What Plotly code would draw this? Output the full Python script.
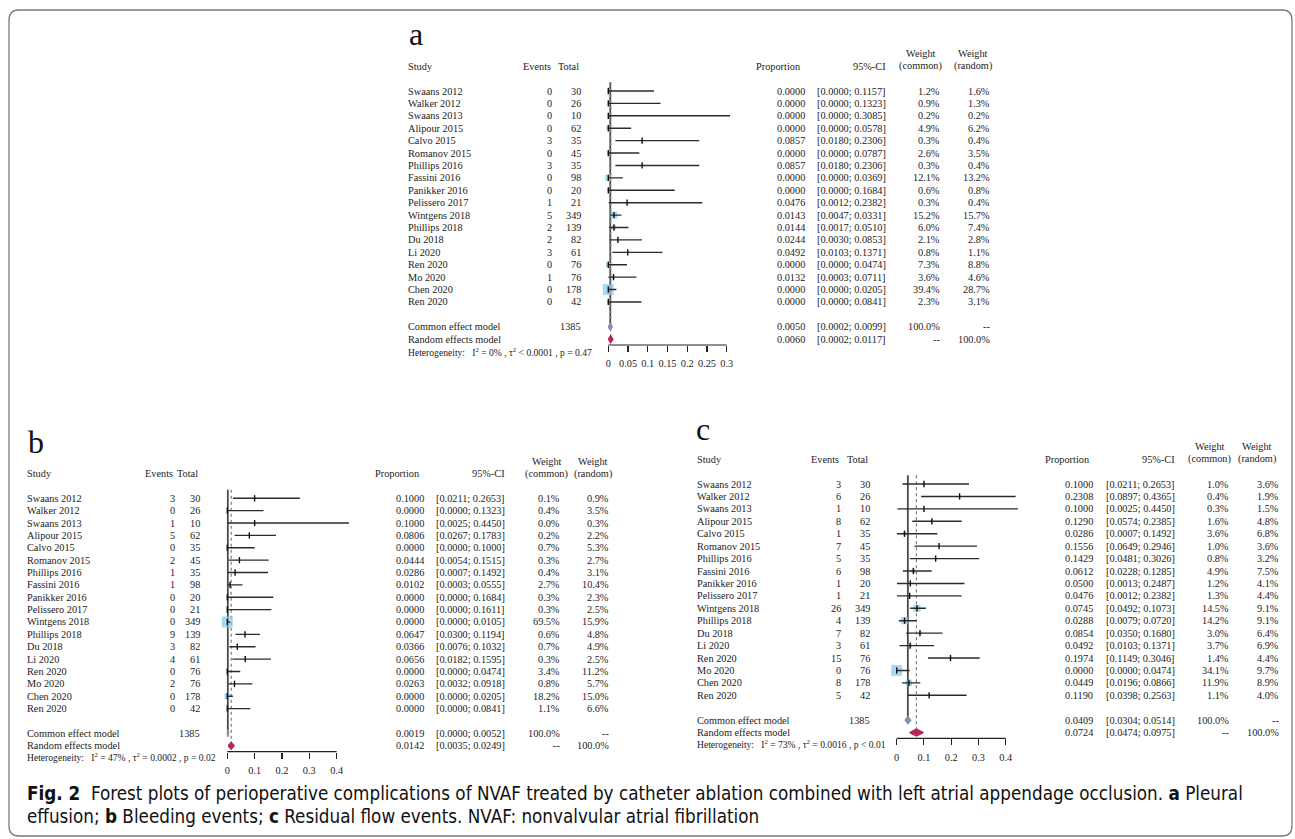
import plotly.graph_objects as go

W, H = 1295, 839

# ---------------- data ----------------
STUDIES = ["Swaans 2012", "Walker 2012", "Swaans 2013", "Alipour 2015", "Calvo 2015",
           "Romanov 2015", "Phillips 2016", "Fassini 2016", "Panikker 2016", "Pelissero 2017",
           "Wintgens 2018", "Phillips 2018", "Du 2018", "Li 2020", "Ren 2020", "Mo 2020",
           "Chen 2020", "Ren 2020"]
TOTALS = [30, 26, 10, 62, 35, 45, 35, 98, 20, 21, 349, 139, 82, 61, 76, 76, 178, 42]
TOTAL_N = 1385

A_EVENTS = [0, 0, 0, 0, 3, 0, 3, 0, 0, 1, 5, 2, 2, 3, 0, 1, 0, 0]
A_PROP = [0.0000, 0.0000, 0.0000, 0.0000, 0.0857, 0.0000, 0.0857, 0.0000, 0.0000, 0.0476,
          0.0143, 0.0144, 0.0244, 0.0492, 0.0000, 0.0132, 0.0000, 0.0000]
A_LOW = [0.0000, 0.0000, 0.0000, 0.0000, 0.0180, 0.0000, 0.0180, 0.0000, 0.0000, 0.0012,
         0.0047, 0.0017, 0.0030, 0.0103, 0.0000, 0.0003, 0.0000, 0.0000]
A_UP = [0.1157, 0.1323, 0.3085, 0.0578, 0.2306, 0.0787, 0.2306, 0.0369, 0.1684, 0.2382,
        0.0331, 0.0510, 0.0853, 0.1371, 0.0474, 0.0711, 0.0205, 0.0841]
A_W_COMMON = [1.2, 0.9, 0.2, 4.9, 0.3, 2.6, 0.3, 12.1, 0.6, 0.3, 15.2, 6.0, 2.1, 0.8, 7.3, 3.6, 39.4, 2.3]
A_W_RANDOM = [1.6, 1.3, 0.2, 6.2, 0.4, 3.5, 0.4, 13.2, 0.8, 0.4, 15.7, 7.4, 2.8, 1.1, 8.8, 4.6, 28.7, 3.1]
A_COMMON = [0.0050, 0.0002, 0.0099]
A_RANDOM = [0.0060, 0.0002, 0.0117]
A_HET = ["0%", "&lt; 0.0001", "= 0.47"]
A_TICKS = [0, 0.05, 0.1, 0.15, 0.2, 0.25, 0.3]
A_TICKTEXT = ["0", "0.05", "0.1", "0.15", "0.2", "0.25", "0.3"]

B_EVENTS = [3, 0, 1, 5, 0, 2, 1, 1, 0, 0, 0, 9, 3, 4, 0, 2, 0, 0]
B_PROP = [0.1000, 0.0000, 0.1000, 0.0806, 0.0000, 0.0444, 0.0286, 0.0102, 0.0000, 0.0000,
          0.0000, 0.0647, 0.0366, 0.0656, 0.0000, 0.0263, 0.0000, 0.0000]
B_LOW = [0.0211, 0.0000, 0.0025, 0.0267, 0.0000, 0.0054, 0.0007, 0.0003, 0.0000, 0.0000,
         0.0000, 0.0300, 0.0076, 0.0182, 0.0000, 0.0032, 0.0000, 0.0000]
B_UP = [0.2653, 0.1323, 0.4450, 0.1783, 0.1000, 0.1515, 0.1492, 0.0555, 0.1684, 0.1611,
        0.0105, 0.1194, 0.1032, 0.1595, 0.0474, 0.0918, 0.0205, 0.0841]
B_W_COMMON = [0.1, 0.4, 0.0, 0.2, 0.7, 0.3, 0.4, 2.7, 0.3, 0.3, 69.5, 0.6, 0.7, 0.3, 3.4, 0.8, 18.2, 1.1]
B_W_RANDOM = [0.9, 3.5, 0.3, 2.2, 5.3, 2.7, 3.1, 10.4, 2.3, 2.5, 15.9, 4.8, 4.9, 2.5, 11.2, 5.7, 15.0, 6.6]
B_COMMON = [0.0019, 0.0000, 0.0052]
B_RANDOM = [0.0142, 0.0035, 0.0249]
B_HET = ["47%", "= 0.0002", "= 0.02"]
B_TICKS = [0, 0.1, 0.2, 0.3, 0.4]
B_TICKTEXT = ["0", "0.1", "0.2", "0.3", "0.4"]

C_EVENTS = [3, 6, 1, 8, 1, 7, 5, 6, 1, 1, 26, 4, 7, 3, 15, 0, 8, 5]
C_PROP = [0.1000, 0.2308, 0.1000, 0.1290, 0.0286, 0.1556, 0.1429, 0.0612, 0.0500, 0.0476,
          0.0745, 0.0288, 0.0854, 0.0492, 0.1974, 0.0000, 0.0449, 0.1190]
C_LOW = [0.0211, 0.0897, 0.0025, 0.0574, 0.0007, 0.0649, 0.0481, 0.0228, 0.0013, 0.0012,
         0.0492, 0.0079, 0.0350, 0.0103, 0.1149, 0.0000, 0.0196, 0.0398]
C_UP = [0.2653, 0.4365, 0.4450, 0.2385, 0.1492, 0.2946, 0.3026, 0.1285, 0.2487, 0.2382,
        0.1073, 0.0720, 0.1680, 0.1371, 0.3046, 0.0474, 0.0866, 0.2563]
C_W_COMMON = [1.0, 0.4, 0.3, 1.6, 3.6, 1.0, 0.8, 4.9, 1.2, 1.3, 14.5, 14.2, 3.0, 3.7, 1.4, 34.1, 11.9, 1.1]
C_W_RANDOM = [3.6, 1.9, 1.5, 4.8, 6.8, 3.6, 3.2, 7.5, 4.1, 4.4, 9.1, 9.1, 6.4, 6.9, 4.4, 9.7, 8.9, 4.0]
C_COMMON = [0.0409, 0.0304, 0.0514]
C_RANDOM = [0.0724, 0.0474, 0.0975]
C_HET = ["73%", "= 0.0016", "&lt; 0.01"]
C_TICKS = [0, 0.1, 0.2, 0.3, 0.4]
C_TICKTEXT = ["0", "0.1", "0.2", "0.3", "0.4"]

CAPTION_1 = ("<b>Fig. 2</b>\u00a0\u00a0Forest plots of perioperative complications of NVAF treated by catheter "
             "ablation combined with left atrial appendage occlusion. <b>a</b> Pleural")
CAPTION_2 = "effusion; <b>b</b> Bleeding events; <b>c</b> Residual flow events. NVAF: nonvalvular atrial fibrillation"

# ---------------- styling / layout geometry ----------------
SERIF = "Liberation Serif, Times New Roman, serif"
TXT = "#1c1c1c"
FS = 10.3
HET_FS = 9.6
SQ_COLOR = "#86C9E8"
COMMON_COLOR = "#8193AE"
RANDOM_COLOR = "#B8245C"

PANELS = [
    dict(label="a", lab_x=407, lab_base=45, x0=608.3, ppu=394.7, xr=(-0.03, 0.335),
         row0=91.0, sp=12.41, axis=345.0, het_row=21.0,
         study=406, ev=554.3, tot=583.3, prop_h=754, prop=806.7, ci=887.7,
         wc=942.3, wr=992.3, wc_c=920.5, wr_c=972.5,
         events=A_EVENTS, p=A_PROP, lo=A_LOW, up=A_UP, wcv=A_W_COMMON, wrv=A_W_RANDOM,
         common=A_COMMON, random=A_RANDOM, het=A_HET, ticks=A_TICKS, ticktext=A_TICKTEXT),
    dict(label="b", lab_x=26, lab_base=453, x0=227.3, ppu=273.3, xr=(-0.03, 0.46),
         row0=498.3, sp=12.37, axis=751.7, het_row=20.9,
         study=25.3, ev=176.7, tot=202.3, prop_h=373.3, prop=426.0, ci=506.7,
         wc=561.7, wr=610.7, wc_c=546.7, wr_c=592.7,
         events=B_EVENTS, p=B_PROP, lo=B_LOW, up=B_UP, wcv=B_W_COMMON, wrv=B_W_RANDOM,
         common=B_COMMON, random=B_RANDOM, het=B_HET, ticks=B_TICKS, ticktext=B_TICKTEXT),
    dict(label="c", lab_x=694, lab_base=440, x0=896.7, ppu=272.5, xr=(-0.03, 0.46),
         row0=484.0, sp=12.43, axis=738.3, het_row=20.9,
         study=695, ev=843.0, tot=872.3, prop_h=1042.7, prop=1095.0, ci=1176.7,
         wc=1231.0, wr=1280.7, wc_c=1209.7, wr_c=1257.0,
         events=C_EVENTS, p=C_PROP, lo=C_LOW, up=C_UP, wcv=C_W_COMMON, wrv=C_W_RANDOM,
         common=C_COMMON, random=C_RANDOM, het=C_HET, ticks=C_TICKS, ticktext=C_TICKTEXT),
]


def px(x):
    return x / W


def py(y):
    return 1 - y / H


fig = go.Figure()
annotations = []
shapes = []
layout_axes = {}

for k, P in enumerate(PANELS, start=1):
    xa = "x" if k == 1 else f"x{k}"
    ya = "y" if k == 1 else f"y{k}"
    n = len(STUDIES)
    rows = list(range(n))
    r_common, r_random = n + 1, n + 2
    top_row = -3.6

    # axes domains from pixel geometry
    xl = P["x0"] + P["xr"][0] * P["ppu"]
    xrgt = P["x0"] + P["xr"][1] * P["ppu"]
    y_top_px = P["row0"] + top_row * P["sp"]
    y_bot_row = (P["axis"] - P["row0"]) / P["sp"]
    layout_axes["xaxis" if k == 1 else f"xaxis{k}"] = dict(
        domain=[px(xl), px(xrgt)], range=list(P["xr"]), anchor=ya,
        showgrid=False, zeroline=False, showline=False,
        tickmode="array", tickvals=P["ticks"], ticktext=P["ticktext"],
        ticks="outside", ticklen=6, tickwidth=1.1, tickcolor="#222",
        tickfont=dict(family=SERIF, size=FS, color=TXT), ticklabelstandoff=3,
        fixedrange=True)
    layout_axes["yaxis" if k == 1 else f"yaxis{k}"] = dict(
        domain=[py(P["axis"]), py(y_top_px)], range=[y_bot_row, top_row], anchor=xa,
        visible=False, fixedrange=True)

    # axis line from first to last tick
    shapes.append(dict(type="line", xref=xa, yref=f"{ya} domain",
                       x0=P["ticks"][0], x1=P["ticks"][-1], y0=0, y1=0,
                       line=dict(color="#222", width=1.2)))

    # vertical lines at pooled estimates
    fig.add_trace(go.Scatter(x=[P["common"][0]] * 2, y=[-0.7, r_common], mode="lines",
                             line=dict(color="#4a4a4a", width=1.8), xaxis=xa, yaxis=ya,
                             hoverinfo="skip", showlegend=False))
    fig.add_trace(go.Scatter(x=[P["random"][0]] * 2, y=[-0.7, r_random], mode="lines",
                             line=dict(color="#7a7a7a", width=1.2, dash="dot"), xaxis=xa, yaxis=ya,
                             hoverinfo="skip", showlegend=False))

    # squares (area ~ common weight)
    wmax = max(P["wcv"])
    sizes = [max(1.5, 11.0 * (w / wmax) ** 0.5) for w in P["wcv"]]
    fig.add_trace(go.Scatter(x=P["p"], y=rows, mode="markers",
                             marker=dict(symbol="square", size=sizes, color=SQ_COLOR, line=dict(width=0)),
                             xaxis=xa, yaxis=ya, cliponaxis=False, hoverinfo="skip", showlegend=False))
    # confidence intervals + point ticks
    fig.add_trace(go.Scatter(x=P["p"], y=rows, mode="markers",
                             marker=dict(symbol="line-ns-open", size=4.5, color="#111",
                                         line=dict(color="#111", width=1.4)),
                             error_x=dict(type="data", symmetric=False,
                                          array=[u - v for u, v in zip(P["up"], P["p"])],
                                          arrayminus=[v - l for v, l in zip(P["p"], P["lo"])],
                                          width=0, thickness=1.4, color="#2b2b2b"),
                             xaxis=xa, yaxis=ya, cliponaxis=False, hoverinfo="skip", showlegend=False))
    # diamonds
    for (est, lo, up), r, col in [(P["common"], r_common, COMMON_COLOR),
                                  (P["random"], r_random, RANDOM_COLOR)]:
        h = 0.28
        fig.add_trace(go.Scatter(x=[lo, est, up, est, lo], y=[r, r - h, r, r + h, r],
                                 mode="lines", fill="toself", fillcolor=col,
                                 line=dict(color=col, width=1.4), xaxis=xa, yaxis=ya,
                                 hoverinfo="skip", showlegend=False))

    def ann(text, x, row, anchor, size=FS, yref=ya):
        annotations.append(dict(text=text, x=px(x), y=row, xref="paper", yref=yref,
                                xanchor=anchor, yanchor="middle", showarrow=False,
                                font=dict(family=SERIF, size=size, color=TXT)))

    # panel label
    annotations.append(dict(text=P["label"], x=px(P["lab_x"]), y=py(P["lab_base"] - 11),
                            xref="paper", yref="paper", xanchor="left", yanchor="middle",
                            showarrow=False, font=dict(family=SERIF, size=32, color="#111")))

    # headers
    ann("Study", P["study"], -2, "left")
    ann("Events", P["ev"] - 1.5, -2, "right")
    ann("Total", P["tot"] - 2.5, -2, "right")
    ann("Proportion", P["prop_h"], -2, "left")
    ann("95%-CI", P["ci"], -2, "right")
    ann("Weight", P["wc_c"], -3, "center")
    ann("(common)", P["wc_c"], -2, "center")
    ann("Weight", P["wr_c"], -3, "center")
    ann("(random)", P["wr_c"], -2, "center")

    # study rows
    for i in rows:
        ann(STUDIES[i], P["study"], i, "left")
        ann(str(P["events"][i]), P["ev"], i, "right")
        ann(str(TOTALS[i]), P["tot"], i, "right")
        ann(f"{P['p'][i]:.4f}", P["prop"], i, "right")
        ann(f"[{P['lo'][i]:.4f}; {P['up'][i]:.4f}]", P["ci"], i, "right")
        ann(f"{P['wcv'][i]:.1f}%", P["wc"], i, "right")
        ann(f"{P['wrv'][i]:.1f}%", P["wr"], i, "right")

    # pooled rows
    ann("Common effect model", P["study"], r_common, "left")
    ann(str(TOTAL_N), P["tot"], r_common, "right")
    ann(f"{P['common'][0]:.4f}", P["prop"], r_common, "right")
    ann(f"[{P['common'][1]:.4f}; {P['common'][2]:.4f}]", P["ci"], r_common, "right")
    ann("100.0%", P["wc"], r_common, "right")
    ann("--", P["wr"], r_common, "right")
    ann("Random effects model", P["study"], r_random, "left")
    ann(f"{P['random'][0]:.4f}", P["prop"], r_random, "right")
    ann(f"[{P['random'][1]:.4f}; {P['random'][2]:.4f}]", P["ci"], r_random, "right")
    ann("--", P["wc"], r_random, "right")
    ann("100.0%", P["wr"], r_random, "right")
    # heterogeneity line sits below the axis domain -> place in paper space
    i2, t2, pv = P["het"]
    het_px = P["row0"] + P["het_row"] * P["sp"]
    annotations.append(dict(
        text=f"Heterogeneity:\u00a0\u00a0 I<sup>2</sup> = {i2} , \u03c4<sup>2</sup> {t2} , p {pv}",
        x=px(P["study"]), y=py(het_px), xref="paper", yref="paper", xanchor="left",
        yanchor="middle", showarrow=False, font=dict(family=SERIF, size=HET_FS, color=TXT)))

# caption
CAP_FONT = "Liberation Sans Narrow, DejaVu Sans Condensed, Arial Narrow, sans-serif"
CAP_FS = 18.7
annotations.append(dict(text=CAPTION_1, x=px(25), y=py(793), xref="paper", yref="paper",
                        xanchor="left", yanchor="middle", showarrow=False,
                        font=dict(family=CAP_FONT, size=CAP_FS, color="#111")))
annotations.append(dict(text=CAPTION_2, x=px(25), y=py(816), xref="paper", yref="paper",
                        xanchor="left", yanchor="middle", showarrow=False,
                        font=dict(family=CAP_FONT, size=CAP_FS, color="#111")))

# rounded border
x1, y1, x2, y2, r = 9, 10, 1292, 836, 10
path = (f"M {px(x1 + r)},{py(y1)} L {px(x2 - r)},{py(y1)} Q {px(x2)},{py(y1)} {px(x2)},{py(y1 + r)} "
        f"L {px(x2)},{py(y2 - r)} Q {px(x2)},{py(y2)} {px(x2 - r)},{py(y2)} "
        f"L {px(x1 + r)},{py(y2)} Q {px(x1)},{py(y2)} {px(x1)},{py(y2 - r)} "
        f"L {px(x1)},{py(y1 + r)} Q {px(x1)},{py(y1)} {px(x1 + r)},{py(y1)} Z")
shapes.append(dict(type="path", xref="paper", yref="paper", path=path,
                   line=dict(color="#7a7a7a", width=1.3), layer="above"))

fig.update_layout(width=W, height=H, margin=dict(l=0, r=0, t=0, b=0),
                  paper_bgcolor="white", plot_bgcolor="rgba(0,0,0,0)",
                  font=dict(family=SERIF, color=TXT), showlegend=False,
                  annotations=annotations, shapes=shapes, **layout_axes)

fig.write_html("out.html", config={"displayModeBar": False, "staticPlot": True},
               post_script="document.body.style.margin='0';document.body.style.overflow='hidden';")
